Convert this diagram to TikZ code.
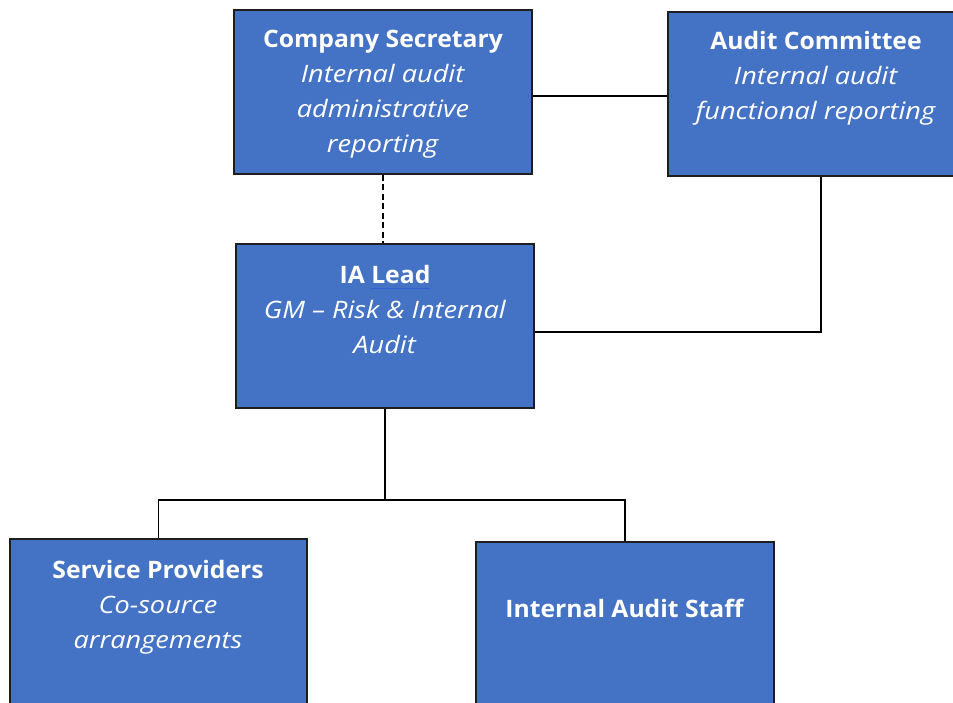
\documentclass[tikz,border=0pt]{standalone}
\usepackage{fontspec}
\setmainfont{Open Sans}[
  BoldFeatures={FakeStretch=1.03},
  ItalicFeatures={FakeStretch=1.13}]
\definecolor{boxblue}{HTML}{4472C4}
\definecolor{boxedge}{HTML}{1E1E1E}
\definecolor{squiggle}{HTML}{2F5FD0}
\tikzset{
  orgbox/.style={draw=boxedge, line width=1.2pt, fill=boxblue, rectangle,
    inner sep=0pt, minimum width=#1},
  orgbox/.default=298pt,
  boxtext/.style={text=white, align=center, inner sep=0pt, anchor=base,
    font=\fontsize{24}{35}\selectfont},
  link/.style={draw=black, line width=1.1pt},
}
\newcommand{\boxtitle}[1]{\textbf{#1}}
% thin blue rule under a word
\newcommand{\markedword}[1]{\setbox0\hbox{#1}\rlap{\color{squiggle}\rule[-6pt]{\wd0}{1.3pt}}\box0}
\begin{document}
\begin{tikzpicture}[x=1pt,y=-1pt]
  \path[use as bounding box] (0,0) rectangle (953,702);
  \clip (0,0) rectangle (953,702);
  \fill[white] (0,0) rectangle (953,702);

  % boxes
  \node[orgbox, minimum height=164pt] (cs)  at (383,92) {};
  \node[orgbox=292pt, minimum height=164pt] (ac)  at (814,94) {};
  \node[orgbox, minimum height=164pt] (ia)  at (385,326) {};
  \node[orgbox=297pt, minimum height=181pt] (sp)  at (158.5,629.5) {};
  \node[orgbox, minimum height=178pt] (ias) at (625,631) {};

  % labels (anchored at the baseline of the last line)
  \node[boxtext] (cstext) at (383,152) {\boxtitle{Company Secretary}\\ \textit{Internal audit}\\ \textit{administrative}\\ \textit{reporting}};
  \node[boxtext] (actext) at (816,119) {\boxtitle{Audit Committee}\\ \textit{Internal audit}\\ \textit{functional reporting}};
  \node[boxtext] (iatext) at (385,353) {\boxtitle{IA \markedword{Lead}}\\ \textit{GM – Risk \& Internal}\\ \textit{Audit}};
  \node[boxtext] (sptext) at (158,648) {\boxtitle{Service Providers}\\ \textit{Co-source}\\ \textit{arrangements}};
  \node[boxtext] (iastext) at (625,617) {\boxtitle{Internal Audit Staff}};

  % connectors
  \coordinate (split) at (ia.south |- 0,500);
  \draw[link] (cs.east |- 0,96) -- (ac.west |- 0,96);
  \draw[link, dashed, dash pattern=on 6pt off 3.5pt] (cs.south) -- (cs.south |- ia.north);
  \draw[link] (ac.south -| 821,0) -- (821,332) -- (ia.east |- 0,332);
  \draw[link] (ia.south) -- (split);
  \draw[link] (sp.north) -- (sp.north |- split) -- (ias.north |- split) -- (ias.north);
\end{tikzpicture}
\end{document}
